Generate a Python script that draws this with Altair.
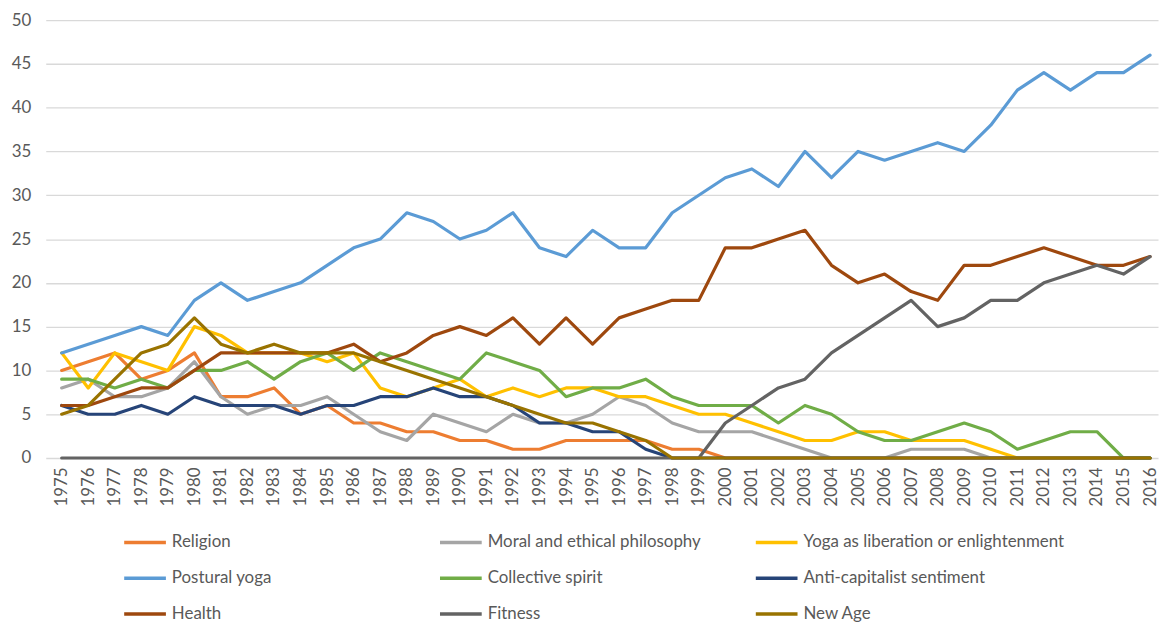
import altair as alt
import pandas as pd

years = list(range(1975, 2017))

series_names = [
    "Religion", "Moral and ethical philosophy", "Yoga as liberation or enlightenment",
    "Postural yoga", "Collective spirit", "Anti-capitalist sentiment",
    "Health", "Fitness", "New Age",
]
series_colors = ["#ED7D31", "#A5A5A5", "#FFC000", "#5B9BD5", "#70AD47", "#264478",
                 "#9E480E", "#636363", "#997300"]

religion = [10, 11, 12, 9, 10, 12, 7, 7, 8, 5, 6, 4, 4, 3, 3, 2, 2, 1, 1, 2, 2, 2, 2, 1, 1,
            0, 0, 0, 0, 0, 0, 0, 0, 0, 0, 0, 0, 0, 0, 0, 0, 0]
moral = [8, 9, 7, 7, 8, 11, 7, 5, 6, 6, 7, 5, 3, 2, 5, 4, 3, 5, 4, 4, 5, 7, 6, 4, 3,
         3, 3, 2, 1, 0, 0, 0, 1, 1, 1, 0, 0, 0, 0, 0, 0, 0]
liberation = [12, 8, 12, 11, 10, 15, 14, 12, 12, 12, 11, 12, 8, 7, 8, 9, 7, 8, 7, 8, 8, 7, 7, 6, 5,
              5, 4, 3, 2, 2, 3, 3, 2, 2, 2, 1, 0, 0, 0, 0, 0, 0]
postural = [12, 13, 14, 15, 14, 18, 20, 18, 19, 20, 22, 24, 25, 28, 27, 25, 26, 28, 24, 23, 26, 24, 24, 28, 30,
            32, 33, 31, 35, 32, 35, 34, 35, 36, 35, 38, 42, 44, 42, 44, 44, 46]
collective = [9, 9, 8, 9, 8, 10, 10, 11, 9, 11, 12, 10, 12, 11, 10, 9, 12, 11, 10, 7, 8, 8, 9, 7, 6,
              6, 6, 4, 6, 5, 3, 2, 2, 3, 4, 3, 1, 2, 3, 3, 0, 0]
anticap = [6, 5, 5, 6, 5, 7, 6, 6, 6, 5, 6, 6, 7, 7, 8, 7, 7, 6, 4, 4, 3, 3, 1, 0, 0,
           0, 0, 0, 0, 0, 0, 0, 0, 0, 0, 0, 0, 0, 0, 0, 0, 0]
health = [6, 6, 7, 8, 8, 10, 12, 12, 12, 12, 12, 13, 11, 12, 14, 15, 14, 16, 13, 16, 13, 16, 17, 18, 18,
          24, 24, 25, 26, 22, 20, 21, 19, 18, 22, 22, 23, 24, 23, 22, 22, 23]
fitness = [0, 0, 0, 0, 0, 0, 0, 0, 0, 0, 0, 0, 0, 0, 0, 0, 0, 0, 0, 0, 0, 0, 0, 0, 0,
           4, 6, 8, 9, 12, 14, 16, 18, 15, 16, 18, 18, 20, 21, 22, 21, 23]
new_age = [5, 6, 9, 12, 13, 16, 13, 12, 13, 12, 12, 12, 11, 10, 9, 8, 7, 6, 5, 4, 4, 3, 2, 0, 0,
           0, 0, 0, 0, 0, 0, 0, 0, 0, 0, 0, 0, 0, 0, 0, 0, 0]

series_values = [religion, moral, liberation, postural, collective, anticap, health, fitness, new_age]

rows = []
for idx, (name, vals) in enumerate(zip(series_names, series_values)):
    for y, v in zip(years, vals):
        rows.append({"Year": y, "Series": name, "Value": v, "idx": idx})
df = pd.DataFrame(rows)

FONT = "Lato"
TXT = "#595959"

chart = alt.Chart(df).mark_line(strokeWidth=3.2, strokeJoin="round", strokeCap="round").encode(
    x=alt.X("Year:Q",
            scale=alt.Scale(domain=[1974.4, 2016.3], nice=False, zero=False),
            axis=alt.Axis(values=years, format="d", labelAngle=-90, title=None,
                          grid=False, ticks=False, domain=False, labelPadding=9,
                          labelFont=FONT, labelFontSize=17, labelColor=TXT,
                          labelOverlap=False, labelFlush=False)),
    y=alt.Y("Value:Q",
            scale=alt.Scale(domain=[0, 50], nice=False),
            axis=alt.Axis(values=list(range(0, 51, 5)), title=None, grid=True,
                          gridColor="#D9D9D9", gridWidth=1.3, ticks=False, domain=False,
                          labelPadding=15, labelFont=FONT, labelFontSize=17, labelColor=TXT)),
    color=alt.Color("Series:N",
                    scale=alt.Scale(domain=series_names, range=series_colors),
                    legend=alt.Legend(title=None, orient="none", legendX=77, legendY=503,
                                      direction="horizontal",
                                      columns=3, gridAlign="all", columnPadding=0,
                                      rowPadding=5, symbolType="stroke", symbolSize=1764,
                                      symbolStrokeWidth=3.5, labelOffset=4,
                                      labelFont=FONT, labelFontSize=17, labelColor=TXT,
                                      labelLimit=400)),
    order=alt.Order("idx:Q"),
).properties(
    width=1120, height=441,
    autosize=alt.AutoSizeParams(type="none"),
    padding={"left": 38, "top": 10, "right": 2, "bottom": 167},
).configure_view(stroke=None)

chart.save("out.html", embed_options={"renderer": "svg", "actions": False})
